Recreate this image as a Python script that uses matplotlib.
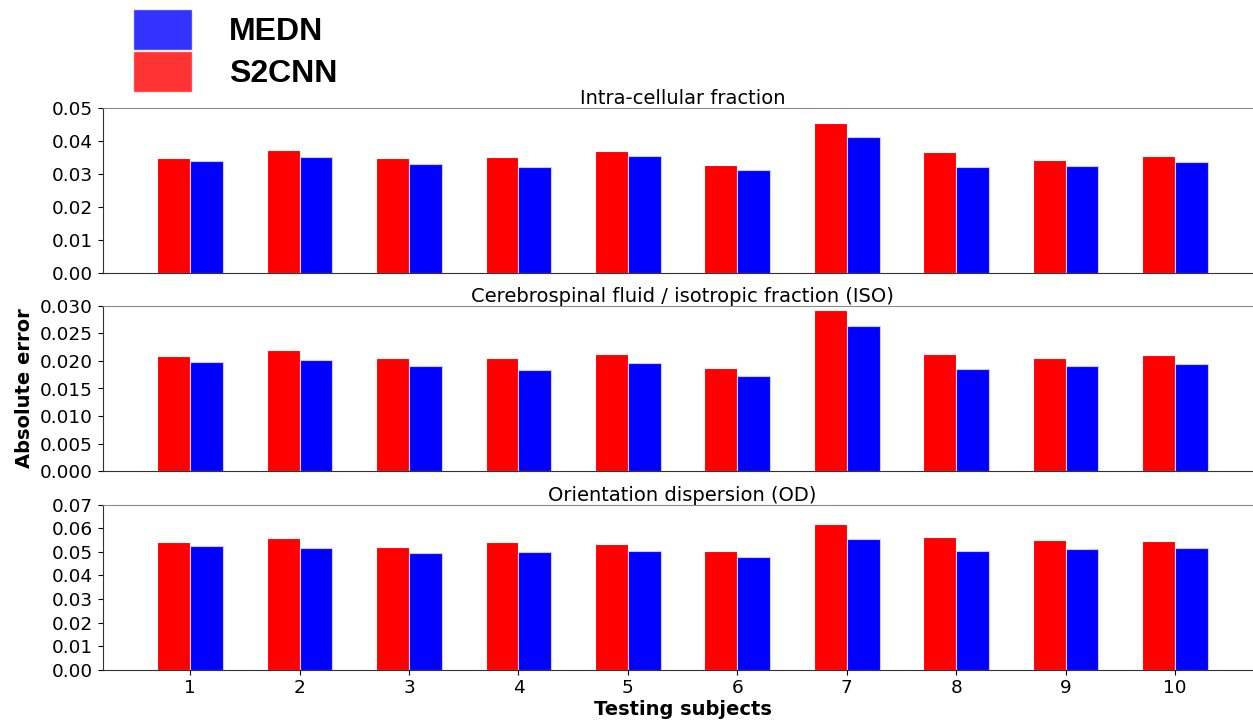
import matplotlib
matplotlib.use("Agg")
import matplotlib.pyplot as plt
from matplotlib.patches import Patch
import numpy as np

subjects = [1, 2, 3, 4, 5, 6, 7, 8, 9, 10]

titles = ["Intra-cellular fraction",
          "Cerebrospinal fluid / isotropic fraction (ISO)",
          "Orientation dispersion (OD)"]

s2cnn_icvf = [0.0349, 0.0372, 0.0349, 0.0351, 0.0368, 0.0326, 0.0454, 0.0366, 0.0342, 0.0354]
medn_icvf = [0.0339, 0.0351, 0.0330, 0.0321, 0.0354, 0.0313, 0.0411, 0.0321, 0.0324, 0.0336]

s2cnn_iso = [0.0209, 0.0219, 0.0206, 0.0205, 0.0212, 0.0187, 0.0292, 0.0212, 0.0206, 0.0210]
medn_iso = [0.0198, 0.0201, 0.0191, 0.0184, 0.0197, 0.0173, 0.0264, 0.0185, 0.0190, 0.0195]

s2cnn_od = [0.0540, 0.0559, 0.0520, 0.0540, 0.0533, 0.0503, 0.0617, 0.0563, 0.0550, 0.0546]
medn_od = [0.0523, 0.0516, 0.0495, 0.0498, 0.0503, 0.0478, 0.0553, 0.0503, 0.0511, 0.0516]

series = [(s2cnn_icvf, medn_icvf), (s2cnn_iso, medn_iso), (s2cnn_od, medn_od)]
ylims = [0.05, 0.030, 0.07]
ysteps = [0.01, 0.005, 0.01]
yfmts = ["{:.2f}", "{:.3f}", "{:.2f}"]

W, H = 1253, 720
fig = plt.figure(figsize=(W / 100, H / 100), dpi=100)

left_px, right_px = 102.7, 1262.5
left = left_px / W
width = (right_px - left_px) / W
panels = [(107.7, 273.0), (305.7, 471.3), (504.7, 669.7)]

x = np.array(subjects, dtype=float)
bw = 0.3
for i, ((top, bot), (red, blue)) in enumerate(zip(panels, series)):
    ax = fig.add_axes([left, 1 - bot / H, width, (bot - top) / H])
    ax.bar(x - bw, red, width=bw, align="edge", color="#ff0000", edgecolor="white", linewidth=0.8)
    ax.bar(x, blue, width=bw, align="edge", color="#0000ff", edgecolor="#ccccff", linewidth=0.8)
    ax.set_xlim(0.2, 10.8)
    ax.set_ylim(0, ylims[i])
    ticks = np.arange(0, ylims[i] + ysteps[i] / 2, ysteps[i])
    ax.set_yticks(ticks)
    ax.set_yticklabels([yfmts[i].format(t) for t in ticks], fontsize=13.3)
    ax.set_title(titles[i], fontsize=14, pad=3)
    ax.spines["right"].set_visible(False)
    ax.spines["top"].set_color("0.55")
    ax.spines["left"].set_color("0.2")
    ax.spines["bottom"].set_color("0.2")
    if i < 2:
        ax.set_xticks([])
    else:
        ax.set_xticks(subjects)
        ax.set_xticklabels([str(s) for s in subjects], fontsize=13.3)
        ax.set_xlabel("Testing subjects", fontsize=14, fontweight="bold", labelpad=2)
    if i == 1:
        ax.set_ylabel("Absolute error", fontsize=14, fontweight="bold", labelpad=4)

handles = [Patch(facecolor="blue", alpha=0.8, edgecolor="white"),
           Patch(facecolor="red", alpha=0.8, edgecolor="white")]
fig.legend(handles, ["MEDN", "S2CNN"], loc="upper left",
           bbox_to_anchor=(133.3 / W, 1 - 9 / H), frameon=False,
           prop={"family": "Liberation Sans", "weight": "bold", "size": 23},
           handlelength=1.85, handleheight=1.58, labelspacing=0.05,
           handletextpad=1.15, borderpad=0, borderaxespad=0)

fig.savefig("out.png", dpi=100)
